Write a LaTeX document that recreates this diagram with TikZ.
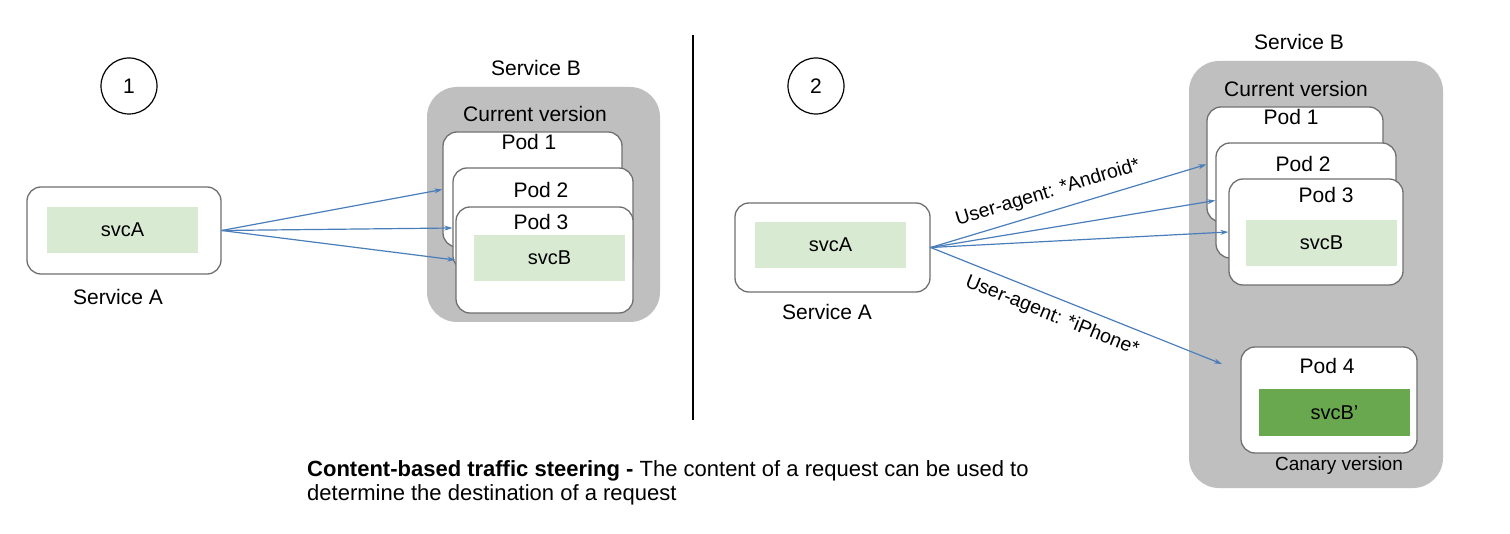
\documentclass[tikz,border=0pt]{standalone}
\usepackage{fontspec}
\setmainfont{Liberation Sans}
\usetikzlibrary{arrows.meta}
\definecolor{graybox}{RGB}{191,191,191}
\definecolor{lightgreen}{RGB}{217,234,211}
\definecolor{darkgreen}{RGB}{106,168,79}
\definecolor{arrowblue}{RGB}{74,126,187}
\definecolor{podborder}{RGB}{112,112,112}
\begin{document}
\begin{tikzpicture}[x=1pt,y=-1pt,
  rbox/.style={draw=podborder, line width=1.3pt, fill=white, rounded corners=14pt, inner sep=0pt},
  grp/.style={fill=graybox, rounded corners=30pt, inner sep=0pt},
  svc/.style={fill=lightgreen, inner sep=0pt, font=\fontsize{20}{24}\selectfont},
  svcnew/.style={fill=darkgreen, inner sep=0pt, font=\fontsize{20}{24}\selectfont},
  lbl/.style={inner sep=0pt, font=\fontsize{21}{25}\selectfont},
  small/.style={inner sep=0pt, font=\fontsize{19}{23}\selectfont},
  edgelbl/.style={inner sep=0pt, font=\fontsize{19.5}{23}\selectfont},
  num/.style={draw=black, line width=1.2pt, circle, minimum size=56pt, inner sep=0pt, font=\fontsize{21}{25}\selectfont},
  flow/.style={draw=arrowblue, line width=1.2pt, -{Stealth[length=8pt,width=5pt]}}
]
\useasboundingbox (0,0) rectangle (1510,534);
\fill[white] (0,0) rectangle (1510,534);

% ---------- Panel 1 ----------
\node[num] (c1) at (129,86) {1};
\node[rbox, minimum width=194pt, minimum height=87pt] (sA1) at (124,230.5) {};
\node[svc, minimum width=151pt, minimum height=46pt] (svcA1) at (122.5,230) {svcA};
\node[lbl] (sA1lbl) at (118,297) {Service A};

\node[lbl] (sB1lbl) at (536,68) {Service B};
\node[grp, minimum width=233pt, minimum height=235pt] (B1) at (543.5,204.5) {};
\node[lbl] (cur1) at (535,114) {Current version};
\node[rbox, minimum width=179pt, minimum height=115pt] (pod1a) at (532.5,189.5) {};
\node[lbl] (p1a) at (529,142) {Pod 1};
\node[rbox, minimum width=180pt, minimum height=102pt] (pod2a) at (543,219) {};
\node[lbl] (p2a) at (541,190) {Pod 2};
\node[rbox, minimum width=177pt, minimum height=106pt] (pod3a) at (544.5,260) {};
\node[lbl] (p3a) at (541,222) {Pod 3};
\node[svc, minimum width=151pt, minimum height=46pt] (svcB1) at (549.5,258) {svcB};

\draw[flow] (sA1.east) -- (pod1a.west);
\draw[flow] (sA1.east) -- ([yshift=-9pt]pod2a.west);
\draw[flow] (sA1.east) -- (pod3a.west);

% divider
\coordinate (dtop) at (693,35);
\coordinate (dbot) at (693,420);
\draw[line width=1.3pt] (dtop) -- (dbot);

% ---------- Panel 2 ----------
\node[num] (c2) at (816,86) {2};
\node[rbox, minimum width=195pt, minimum height=89pt] (sA2) at (832.5,247.5) {};
\node[svc, minimum width=151pt, minimum height=46pt] (svcA2) at (830.5,245) {svcA};
\node[lbl] (sA2lbl) at (827,312) {Service A};

\node[lbl] (sB2lbl) at (1299,42) {Service B};
\node[grp, minimum width=254pt, minimum height=427pt] (B2) at (1316,274.5) {};
\node[lbl] (cur2) at (1296,89) {Current version};
\node[rbox, minimum width=176pt, minimum height=115pt] (pod1b) at (1295,164.5) {};
\node[lbl] (p1b) at (1291,117) {Pod 1};
\node[rbox, minimum width=180pt, minimum height=115pt] (pod2b) at (1306,200.5) {};
\node[lbl] (p2b) at (1303,164) {Pod 2};
\node[rbox, minimum width=174pt, minimum height=106pt] (pod3b) at (1316,232) {};
\node[lbl] (p3b) at (1326,195) {Pod 3};
\node[svc, minimum width=151pt, minimum height=46pt] (svcB2) at (1321.5,243) {svcB};

\node[rbox, minimum width=176pt, minimum height=106pt] (pod4) at (1329,400) {};
\node[lbl] (p4) at (1327,366) {Pod 4};
\node[svcnew, minimum width=151pt, minimum height=47pt] (svcBp) at (1334.5,412.5) {svcB’};
\node[small] (canary) at (1339,466) {Canary version};

\coordinate (iend) at (1222,364);
\draw[flow] (sA2.east) -- (pod1b.west);
\draw[flow] (sA2.east) -- (pod2b.west);
\draw[flow] (sA2.east) -- (pod3b.west);
\draw[flow] (sA2.east) -- (iend);

\node[edgelbl, rotate=17] (andr) at (1048,193) {User-agent: *Android*};
\node[edgelbl, rotate=-22] (iph) at (1052,316) {User-agent: *iPhone*};

% caption
\node[inner sep=0pt, anchor=north west, align=left, font=\fontsize{22}{24}\selectfont] (cap) at (307,460)
  {\textbf{Content-based traffic steering -} The content of a request can be used to\\determine the destination of a request};
\end{tikzpicture}
\end{document}
